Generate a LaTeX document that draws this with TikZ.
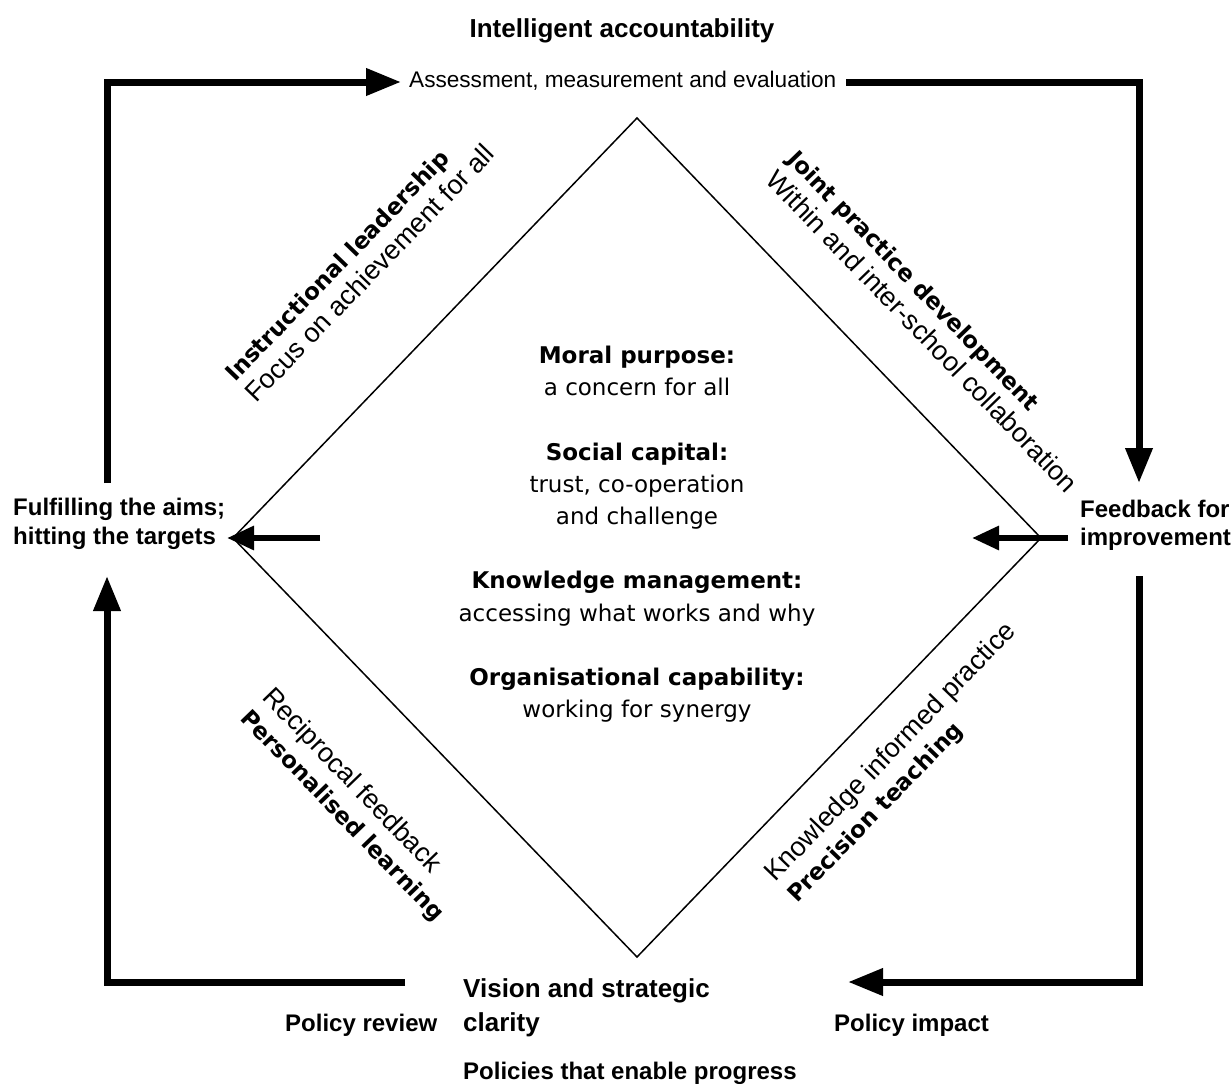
\documentclass[tikz,border=0pt]{standalone}
\usepackage{fontspec}
\setmainfont{Liberation Sans}
\newfontfamily\dvfont{DejaVu Sans}
\usetikzlibrary{arrows.meta}

\begin{document}
\begin{tikzpicture}[x=1pt,y=-1pt,
  bigarrow/.style={line width=7pt,-{Triangle[length=35pt,width=26pt]}},
  smallarrow/.style={line width=6pt,-{Triangle[length=27pt,width=23pt]}},
  outer/.style={inner sep=0pt,anchor=base west,font=\fontsize{24}{28}\selectfont\bfseries},
  mid/.style={inner sep=0pt,anchor=base,font=\dvfont\fontsize{23}{28}\selectfont},
  midb/.style={inner sep=0pt,anchor=base,font=\dvfont\bfseries\fontsize{23}{28}\selectfont},
  side/.style={inner sep=0pt,anchor=base west,font=\fontsize{27}{30}\selectfont},
  sideb/.style={inner sep=0pt,anchor=base west,font=\dvfont\bfseries\fontsize{23}{30}\selectfont}]
 \useasboundingbox (0,0) rectangle (1232,1084);

 % the diamond
 \coordinate (top) at (637,118);
 \coordinate (right) at (1041,538);
 \coordinate (bottom) at (637,957);
 \coordinate (left) at (233,538);
 \draw[line width=1.5pt] (top) -- (right) -- (bottom) -- (left) -- cycle;

 % centre text
 \draw (637,363.5) node[midb] (moral) {Moral purpose:};
 \draw (637,395.7) node[mid] (moral2) {a concern for all};
 \draw (637,460.1) node[midb] (social) {Social capital:};
 \draw (637,492.3) node[mid] (social2) {trust, co-operation};
 \draw (637,524.5) node[mid] (social3) {and challenge};
 \draw (637,588.9) node[midb] (know) {Knowledge management:};
 \draw (637,621.1) node[mid] (know2) {accessing what works and why};
 \draw (637,685.5) node[midb] (organ) {Organisational capability:};
 \draw (637,717.7) node[mid] (organ2) {working for synergy};

 % sides of the diamond
 \draw (235,383) node[sideb,rotate=46] (lead) {Instructional leadership};
 \draw (256,404) node[side,rotate=46] (lead2) {Focus on achievement for all};
 \draw (786,160) node[sideb,rotate=-46] (joint) {Joint practice development};
 \draw (764,181) node[side,rotate=-46] (joint2) {Within and inter-school collaboration};
 \draw (261,698) node[side,rotate=-46] (pers2) {Reciprocal feedback};
 \draw (239,719) node[sideb,rotate=-46] (pers) {Personalised learning};
 \draw (775,883) node[side,rotate=46] (prec2) {Knowledge informed practice};
 \draw (797,904) node[sideb,rotate=46] (prec) {Precision teaching};

 % outer labels
 \draw (622,37) node[outer,anchor=base,font=\fontsize{26}{30}\selectfont\bfseries] (title) {Intelligent accountability};
 \draw (409,87) node[outer,font=\fontsize{22.6}{26}\selectfont] (assess) {Assessment, measurement and evaluation};
 \draw (13,515) node[outer] (aims) {Fulfilling the aims;};
 \draw (13,544) node[outer] (aims2) {hitting the targets};
 \draw (1080,517) node[outer] (feed) {Feedback for};
 \draw (1080,545) node[outer] (feed2) {improvement};
 \draw (463,997) node[outer,font=\fontsize{26}{30}\selectfont\bfseries] (vision) {Vision and strategic};
 \draw (463,1031) node[outer,font=\fontsize{26}{30}\selectfont\bfseries] (vision2) {clarity};
 \draw (285,1031) node[outer] (review) {Policy review};
 \draw (834,1031) node[outer] (impact) {Policy impact};
 \draw (463,1079) node[outer] (enable) {Policies that enable progress};

 % the loop
 \coordinate (upstart) at (107,483);
 \coordinate (tl) at (107,82);
 \coordinate (asstip) at (401,82);
 \coordinate (evalend) at (846,82);
 \coordinate (tr) at (1139,82);
 \coordinate (feedtip) at (1139,483);
 \coordinate (downstart) at (1139,576);
 \coordinate (br) at (1139,982);
 \coordinate (impacttip) at (848,982);
 \coordinate (reviewend) at (405,982);
 \coordinate (bl) at (107,982);
 \coordinate (aimstip) at (107,576);
 \draw[bigarrow] (upstart) -- (tl) -- (asstip);
 \draw[bigarrow] (evalend) -- (tr) -- (feedtip);
 \draw[bigarrow] (downstart) -- (br) -- (impacttip);
 \draw[bigarrow] (reviewend) -- (bl) -- (aimstip);

 % into the corners
 \coordinate (lstub) at (320,538);
 \coordinate (ltip) at (227,538);
 \coordinate (rstub) at (1068,538);
 \coordinate (rtip) at (972,538);
 \draw[smallarrow] (lstub) -- (ltip);
 \draw[smallarrow] (rstub) -- (rtip);

\end{tikzpicture}
\end{document}
